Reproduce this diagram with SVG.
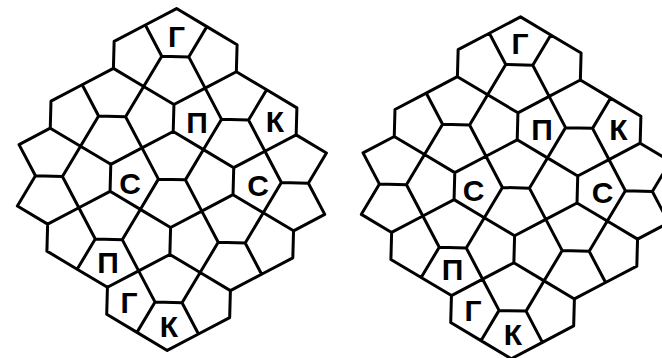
<svg xmlns="http://www.w3.org/2000/svg" xmlns:xlink="http://www.w3.org/1999/xlink" width="662" height="358" viewBox="0 0 662 358">
<style>
.edge{fill:none;stroke:#000;stroke-width:3;stroke-linejoin:round;stroke-linecap:round}
.lbl{font-family:"Liberation Sans","DejaVu Sans",Arial,sans-serif;font-weight:bold;font-size:30px;fill:#000;text-anchor:middle}
</style>
<defs>
<g id="tiling">
<path class="edge" transform="rotate(1.56)" d="M0,-171 L30.75,-153.75 L61.5,-136.5 L61.5,-109.5 L92.25,-92.25 L123,-75 L123,-48 L153.75,-30.75 L136.5,0 L153.75,30.75 L123,48 L123,75 L92.25,92.25 L61.5,109.5 L61.5,136.5 L30.75,153.75 L0,171 L-30.75,153.75 L-61.5,136.5 L-61.5,109.5 L-92.25,92.25 L-123,75 L-123,48 L-153.75,30.75 L-136.5,0 L-153.75,-30.75 L-123,-48 L-123,-75 L-92.25,-92.25 L-61.5,-109.5 L-61.5,-136.5 L-30.75,-153.75 Z
M-61.5,-109.5 L-30.75,-92.25
M-30.75,-153.75 L-13.5,-123 L13.5,-123 L30.75,-153.75 M-30.75,-92.25 L-13.5,-123 M13.5,-123 L30.75,-92.25
M61.5,-109.5 L30.75,-92.25
M-123,-48 L-92.25,-30.75
M-92.25,-92.25 L-75,-61.5 L-48,-61.5 L-30.75,-92.25 M-92.25,-30.75 L-75,-61.5 M-48,-61.5 L-30.75,-30.75
M-30.75,-92.25 L0,-75 L0,-48 L-30.75,-30.75 M30.75,-92.25 L0,-75 M0,-48 L30.75,-30.75
M30.75,-92.25 L48,-61.5 L75,-61.5 L92.25,-92.25 M30.75,-30.75 L48,-61.5 M75,-61.5 L92.25,-30.75
M123,-48 L92.25,-30.75
M-136.5,0 L-109.5,0 M-92.25,-30.75 L-109.5,0 L-92.25,30.75
M-92.25,-30.75 L-61.5,-13.5 L-61.5,13.5 L-92.25,30.75 M-30.75,-30.75 L-61.5,-13.5 M-61.5,13.5 L-30.75,30.75
M-30.75,-30.75 L-13.5,0 L13.5,0 L30.75,-30.75 M-30.75,30.75 L-13.5,0 M13.5,0 L30.75,30.75
M30.75,-30.75 L61.5,-13.5 L61.5,13.5 L30.75,30.75 M92.25,-30.75 L61.5,-13.5 M61.5,13.5 L92.25,30.75
M136.5,0 L109.5,0 M92.25,-30.75 L109.5,0 L92.25,30.75
M-123,48 L-92.25,30.75
M-92.25,30.75 L-75,61.5 L-48,61.5 L-30.75,30.75 M-92.25,92.25 L-75,61.5 M-48,61.5 L-30.75,92.25
M-30.75,30.75 L0,48 L0,75 L-30.75,92.25 M30.75,30.75 L0,48 M0,75 L30.75,92.25
M30.75,30.75 L48,61.5 L75,61.5 L92.25,30.75 M30.75,92.25 L48,61.5 M75,61.5 L92.25,92.25
M123,48 L92.25,30.75
M-61.5,109.5 L-30.75,92.25
M-30.75,92.25 L-13.5,123 L13.5,123 L30.75,92.25 M-30.75,153.75 L-13.5,123 M13.5,123 L30.75,153.75
M61.5,109.5 L30.75,92.25"/>
</g>
</defs>
<rect width="662" height="358" fill="#fff"/>
<g id="figure-left">
<use href="#tiling" xlink:href="#tiling" transform="translate(171.9,179.5)"/>
<text class="lbl" x="176.5" y="46.8">Г</text>
<text class="lbl" x="197" y="132.8">П</text>
<text class="lbl" x="275" y="131.8">К</text>
<text class="lbl" x="130" y="193.8">С</text>
<text class="lbl" x="258" y="195.8">С</text>
<text class="lbl" x="108" y="272.8">П</text>
<text class="lbl" x="129" y="313.3">Г</text>
<text class="lbl" x="169" y="336.8">К</text>
</g>
<g id="figure-right">
<use href="#tiling" xlink:href="#tiling" transform="translate(515.9,187.8)"/>
<text class="lbl" x="520" y="54.3">Г</text>
<text class="lbl" x="542" y="140.3">П</text>
<text class="lbl" x="618.5" y="139.8">К</text>
<text class="lbl" x="473.5" y="201.3">С</text>
<text class="lbl" x="602.5" y="202.8">С</text>
<text class="lbl" x="452.5" y="280.3">П</text>
<text class="lbl" x="473" y="321.3">Г</text>
<text class="lbl" x="513" y="345.3">К</text>
</g>
</svg>
